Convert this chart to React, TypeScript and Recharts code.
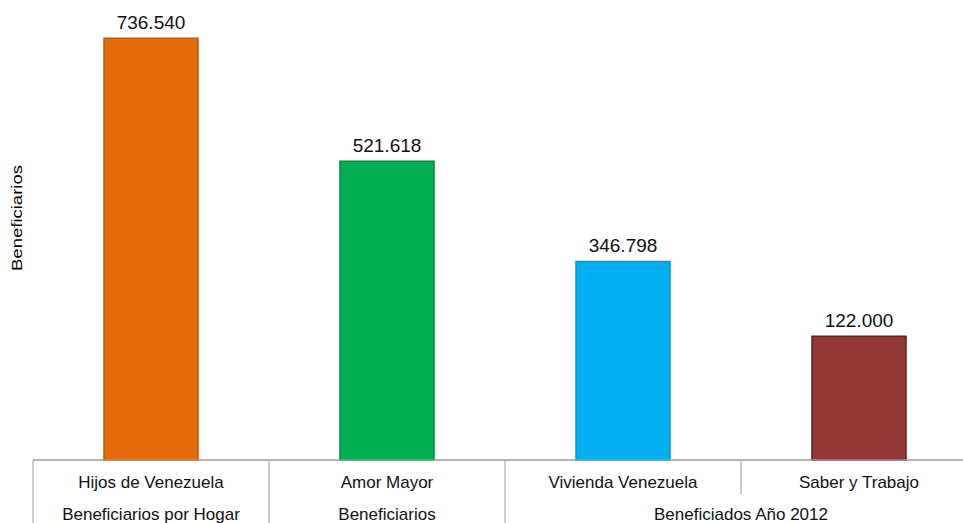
import { BarChart, Bar, XAxis, YAxis, Cell, LabelList } from 'recharts'

const categories = ['Hijos de Venezuela', 'Amor Mayor', 'Vivienda Venezuela', 'Saber y Trabajo']
// bar heights as drawn in the picture (the last bar is drawn taller than its label says)
const barValues = [736540, 521618, 346798, 216000]
const valueLabels = ['736.540', '521.618', '346.798', '122.000']
const groupLabels = ['Beneficiarios por Hogar', 'Beneficiarios', 'Beneficiados Año 2012']
const groupOf = [0, 1, 2, 2]

const fills = ['#E46C0A', '#00B050', '#00B0F0', '#953735']
const strokes = ['#C0580A', '#008A3E', '#0098D0', '#5E1F1E']

const data = categories.map((name, i) => ({ name, value: barValues[i], label: valueLabels[i] }))

const W = 980
const H = 523
const M = { top: 2, right: 3, left: 0, bottom: 0 }
const Y_W = 33
const AXIS_H = 63
const BAND = (W - M.left - M.right - Y_W) / categories.length
const FONT = '"Liberation Sans", Arial, sans-serif'
const LINE = '#9a9a9a'

function TableTick(props: any) {
  const { x, y, payload } = props
  const i = payload.index
  const left = x - BAND / 2
  const g = groupOf[i]
  const newGroup = i === 0 || groupOf[i - 1] !== g
  const groupSize = groupOf.filter(v => v === g).length
  const groupStart = groupOf.indexOf(g)
  const groupCenter = x + (groupStart - i) * BAND + (groupSize * BAND) / 2 - BAND / 2
  return (
    <g>
      <line x1={left} y1={y} x2={left} y2={newGroup ? y + AXIS_H : y + 34} stroke={LINE} strokeWidth={1} />
      <text x={x} y={y + 28} textAnchor="middle" fontSize={17} fill="#111" fontFamily={FONT}>
        {payload.value}
      </text>
      {newGroup && (
        <text x={groupCenter} y={y + 60} textAnchor="middle" fontSize={17} fill="#111" fontFamily={FONT}>
          {groupLabels[g]}
        </text>
      )}
    </g>
  )
}

function YLabel(props: any) {
  const { viewBox } = props
  const cx = viewBox.x + 22
  const cy = viewBox.y + viewBox.height / 2 - 13
  return (
    <text
      x={cx}
      y={cy}
      transform={`rotate(-90 ${cx} ${cy})`}
      textAnchor="middle"
      fontSize={14}
      fill="#000"
      fontFamily={FONT}
      textLength={106}
      lengthAdjust="spacingAndGlyphs"
    >
      Beneficiarios
    </text>
  )
}

export default function App() {
  return (
    <div style={{ position: 'absolute', left: 0, top: 0, width: 963, height: 523, overflow: 'hidden', background: '#fff' }}>
      <BarChart width={W} height={H} data={data} margin={M}>
        <XAxis
          dataKey="name"
          height={AXIS_H}
          interval={0}
          tickSize={0}
          tickMargin={0}
          tickLine={false}
          axisLine={{ stroke: LINE, strokeWidth: 1.5 }}
          tick={<TableTick />}
        />
        <YAxis
          width={Y_W}
          domain={[0, 800000]}
          tick={false}
          tickLine={false}
          axisLine={false}
          label={<YLabel />}
        />
        <Bar dataKey="value" barSize={94} isAnimationActive={false} strokeWidth={1.5}>
          {data.map((d, i) => (
            <Cell key={d.name} fill={fills[i]} stroke={strokes[i]} />
          ))}
          <LabelList dataKey="label" position="top" offset={9} fontSize={19} fill="#111" fontFamily={FONT} />
        </Bar>
      </BarChart>
    </div>
  )
}
